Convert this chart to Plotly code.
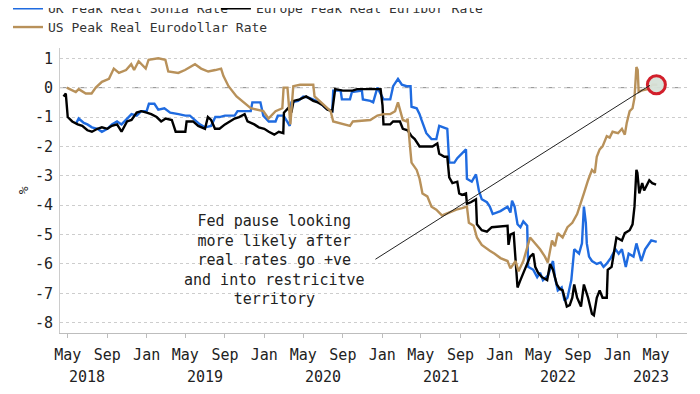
import plotly.graph_objects as go

# ---------------- data ----------------
uk_dates = ["2018-05-28","2018-06-04","2018-06-20","2018-07-01","2018-07-15","2018-08-01","2018-08-15","2018-09-01","2018-09-15","2018-10-01",
            "2018-10-15","2018-11-01","2018-11-15","2018-12-01","2018-12-15","2019-01-01","2019-01-08","2019-01-25","2019-02-06","2019-02-25",
            "2019-03-15","2019-04-10","2019-05-01","2019-05-15","2019-06-01","2019-06-15","2019-07-01","2019-07-20","2019-08-02","2019-08-15",
            "2019-09-01","2019-10-01","2019-10-10","2019-10-25","2019-11-20","2019-11-25","2019-12-20","2019-12-29","2020-01-15","2020-02-05",
            "2020-02-12","2020-03-01","2020-03-13","2020-03-20","2020-03-25","2020-04-15","2020-05-01","2020-05-20","2020-06-10","2020-06-25",
            "2020-07-10","2020-07-30","2020-08-02","2020-08-25","2020-08-29","2020-09-23","2020-09-29","2020-10-30","2020-11-02","2020-11-25",
            "2020-12-04","2020-12-17","2021-01-05","2021-01-26","2021-02-04","2021-02-19","2021-03-03","2021-03-18","2021-03-30","2021-04-02",
            "2021-04-18","2021-04-27","2021-05-03","2021-05-18","2021-06-03","2021-06-18","2021-06-27","2021-07-13","2021-07-22","2021-07-28",
            "2021-08-13","2021-08-22","2021-09-03","2021-09-18","2021-09-21","2021-10-06","2021-10-19","2021-10-28","2021-11-06","2021-11-22",
            "2021-12-01","2021-12-10","2022-01-03","2022-01-25","2022-02-03","2022-02-08","2022-02-16","2022-02-25","2022-03-06","2022-03-15",
            "2022-03-27","2022-03-30","2022-04-15","2022-04-27","2022-05-06","2022-05-15","2022-05-30","2022-06-12","2022-06-15","2022-06-21",
            "2022-06-30","2022-07-12","2022-07-21","2022-07-30","2022-08-11","2022-08-20","2022-09-04","2022-09-13","2022-09-19","2022-09-25",
            "2022-09-28","2022-10-05","2022-10-14","2022-10-29","2022-11-10","2022-11-19","2022-11-28","2022-12-11","2022-12-26","2023-01-05",
            "2023-01-15","2023-01-27","2023-02-05","2023-02-20","2023-03-01","2023-03-16","2023-03-28","2023-04-16","2023-05-03"]
uk_vals = [-1.2,-1.05,-1.2,-1.25,-1.35,-1.4,-1.5,-1.4,-1.25,-1.15,
           -1.25,-1.05,-0.9,-0.95,-0.8,-0.8,-0.55,-0.55,-0.75,-0.7,
           -0.85,-0.9,-0.95,-0.95,-1.1,-1.25,-1.35,-1.3,-1.0,-1.0,
           -0.95,-0.95,-0.8,-0.8,-0.8,-0.5,-0.5,-0.95,-1.15,-1.15,
           -0.95,-0.95,-1.15,-1.3,-0.5,-0.45,-0.3,-0.35,-0.45,-0.55,
           -0.7,-0.8,-0.1,-0.1,-0.4,-0.4,-0.15,-0.1,-0.4,-0.45,
           -0.5,0.0,-0.4,-0.4,0.05,0.3,0.1,0.05,0.05,-0.65,
           -0.7,-0.9,-1.1,-1.55,-1.75,-1.75,-1.3,-1.35,-1.4,-2.55,
           -2.55,-2.4,-2.25,-2.1,-3.1,-3.2,-2.95,-3.5,-3.8,-3.9,
           -4.05,-4.3,-4.2,-4.05,-4.25,-3.85,-4.05,-4.65,-4.75,-4.55,
           -4.7,-6.1,-6.2,-6.45,-6.3,-6.55,-6.4,-6.0,-5.9,-6.45,
           -6.9,-6.8,-7.25,-7.15,-6.55,-5.5,-5.65,-5.3,-4.05,-4.6,
           -5.3,-5.75,-5.9,-6.0,-5.95,-6.1,-6.0,-5.8,-5.5,-5.65,
           -5.5,-6.1,-5.65,-5.75,-5.3,-5.9,-5.5,-5.2,-5.25]

eu_dates = ["2018-04-18","2018-04-25","2018-05-01","2018-05-15","2018-06-01","2018-06-15","2018-07-01","2018-07-15","2018-08-01","2018-08-15",
            "2018-09-01","2018-09-15","2018-10-01","2018-10-15","2018-11-01","2018-11-15","2018-12-01","2018-12-15","2019-01-01","2019-01-15",
            "2019-02-01","2019-02-15","2019-03-01","2019-03-20","2019-04-01","2019-04-15","2019-05-01","2019-05-05","2019-05-25","2019-06-10",
            "2019-07-01","2019-07-10","2019-07-20","2019-08-01","2019-08-15","2019-09-01","2019-09-15","2019-10-01","2019-10-15","2019-11-01",
            "2019-11-10","2019-12-01","2019-12-15","2020-01-01","2020-01-15","2020-02-01","2020-02-15","2020-02-29","2020-03-02","2020-03-15",
            "2020-03-25","2020-04-01","2020-04-20","2020-05-10","2020-06-01","2020-06-15","2020-07-01","2020-07-15","2020-07-30","2020-08-08",
            "2020-09-01","2020-10-01","2020-10-15","2020-12-27","2021-01-02","2021-01-05","2021-01-26","2021-02-04","2021-02-25","2021-03-06",
            "2021-03-21","2021-04-02","2021-04-12","2021-04-27","2021-05-21","2021-06-06","2021-06-21","2021-06-27","2021-07-13","2021-07-22",
            "2021-07-28","2021-08-07","2021-08-22","2021-08-28","2021-09-06","2021-09-18","2021-09-21","2021-10-03","2021-10-19","2021-10-22",
            "2021-11-06","2021-11-22","2021-12-07","2022-01-09","2022-01-25","2022-01-28","2022-02-03","2022-02-13","2022-02-25","2022-03-06",
            "2022-03-27","2022-04-05","2022-04-15","2022-04-21","2022-04-30","2022-05-12","2022-05-28","2022-06-06","2022-06-15","2022-06-27",
            "2022-07-06","2022-07-15","2022-07-28","2022-08-06","2022-08-14","2022-08-20","2022-08-29","2022-09-10","2022-09-19","2022-10-02",
            "2022-10-14","2022-10-20","2022-10-29","2022-11-07","2022-11-16","2022-11-29","2022-12-02","2022-12-14","2022-12-23","2022-12-29",
            "2023-01-15","2023-01-24","2023-02-08","2023-02-17","2023-02-23","2023-03-01","2023-03-04","2023-03-10","2023-03-19","2023-03-25",
            "2023-04-10","2023-04-19","2023-05-01"]
eu_vals = [-0.3,-0.2,-1.0,-1.15,-1.25,-1.3,-1.45,-1.5,-1.4,-1.35,
           -1.4,-1.3,-1.25,-1.5,-1.15,-1.1,-0.85,-0.8,-0.85,-0.9,
           -1.0,-1.15,-1.05,-1.1,-1.5,-1.5,-1.5,-1.15,-1.15,-1.3,
           -1.4,-1.0,-1.1,-1.4,-1.4,-1.25,-1.15,-1.05,-1.0,-0.9,
           -1.15,-1.25,-1.35,-1.4,-1.5,-1.6,-1.5,-1.55,-0.85,-0.7,
           -0.85,-0.45,-0.4,-0.3,-0.45,-0.5,-0.6,-0.75,-0.8,-0.05,
           -0.1,-0.1,-0.05,-0.05,-0.6,-1.25,-1.25,-1.15,-1.15,-1.4,
           -1.45,-1.65,-1.75,-2.0,-2.0,-2.0,-1.9,-2.25,-2.35,-2.35,
           -3.05,-3.25,-3.2,-3.6,-3.65,-3.6,-3.95,-3.9,-3.8,-4.65,
           -4.85,-4.9,-4.75,-4.7,-4.7,-5.35,-5.0,-4.95,-6.8,-6.55,
           -6.0,-5.75,-5.65,-6.1,-6.3,-6.45,-6.55,-6.0,-6.2,-6.7,
           -6.85,-6.9,-7.45,-7.4,-7.15,-6.7,-7.15,-7.45,-6.7,-7.15,
           -7.7,-7.75,-7.15,-6.9,-7.15,-7.15,-6.2,-6.1,-5.5,-5.1,
           -5.2,-4.95,-4.85,-4.65,-4.05,-2.8,-2.9,-3.6,-3.25,-3.5,
           -3.15,-3.25,-3.3]

us_dates = ["2018-04-28","2018-05-26","2018-06-04","2018-06-26","2018-07-14","2018-07-27","2018-08-15","2018-09-06","2018-09-21","2018-10-07",
            "2018-10-29","2018-11-14","2018-11-23","2018-12-07","2018-12-29","2019-01-07","2019-02-06","2019-02-28","2019-03-09","2019-04-09",
            "2019-04-30","2019-05-31","2019-06-19","2019-07-11","2019-08-02","2019-08-20","2019-08-27","2019-09-12","2019-10-07","2019-10-29",
            "2019-11-20","2019-12-29","2020-01-14","2020-02-05","2020-02-26","2020-03-01","2020-03-13","2020-03-22","2020-03-31","2020-04-21",
            "2020-06-01","2020-06-05","2020-07-03","2020-07-25","2020-08-02","2020-09-01","2020-09-23","2020-10-02","2020-11-25","2020-12-17",
            "2021-01-05","2021-01-26","2021-02-10","2021-02-19","2021-03-06","2021-03-18","2021-03-21","2021-03-27","2021-04-02","2021-04-18",
            "2021-04-27","2021-05-06","2021-05-21","2021-06-03","2021-06-18","2021-07-06","2021-07-28","2021-08-19","2021-09-06","2021-09-21",
            "2021-09-27","2021-10-12","2021-10-22","2021-11-06","2021-12-01","2021-12-16","2022-01-03","2022-01-25","2022-02-03","2022-02-19",
            "2022-02-28","2022-03-15","2022-04-05","2022-04-21","2022-05-06","2022-05-21","2022-05-30","2022-06-12","2022-06-21","2022-06-30",
            "2022-07-15","2022-07-30","2022-08-14","2022-08-29","2022-09-10","2022-09-19","2022-10-02","2022-10-14","2022-10-23","2022-10-29",
            "2022-11-07","2022-11-16","2022-11-29","2022-12-08","2022-12-17","2023-01-03","2023-01-15","2023-01-24","2023-01-30","2023-02-08",
            "2023-02-17","2023-02-23","2023-03-01","2023-03-05","2023-03-08","2023-03-16","2023-04-05","2023-04-20","2023-05-05"]
us_vals = [0.0,-0.15,-0.05,-0.2,-0.2,0.0,0.2,0.3,0.65,0.5,
           0.6,0.8,0.6,0.9,0.65,0.95,1.0,0.95,0.55,0.5,
           0.6,0.8,0.65,0.55,0.6,0.65,0.4,0.05,-0.3,-0.5,
           -0.7,-0.8,-1.05,-0.8,-0.7,0.0,0.0,-1.25,0.05,0.1,
           0.1,-0.3,-0.6,-0.8,-1.15,-1.25,-1.3,-1.15,-1.1,-0.95,
           -0.9,-0.9,-0.8,-0.5,-1.1,-1.15,-1.05,-1.85,-2.55,-2.8,
           -3.1,-3.6,-3.7,-4.05,-4.15,-4.35,-4.25,-4.15,-4.1,-4.05,
           -4.6,-4.7,-5.1,-5.35,-5.55,-5.65,-5.8,-5.9,-6.15,-5.9,
           -6.25,-5.9,-5.1,-5.3,-5.5,-5.75,-5.95,-5.2,-5.4,-4.95,
           -5.1,-4.75,-4.6,-4.3,-3.85,-3.6,-3.15,-2.8,-2.9,-2.35,
           -2.1,-2.0,-1.65,-1.7,-1.5,-1.55,-1.4,-1.6,-1.2,-0.8,
           -0.7,-0.35,0.7,0.6,-0.15,-0.1,-0.05,0.1,0.1]

tick_dates = ["2018-05-01","2018-09-01","2019-01-01","2019-05-01","2019-09-01","2020-01-01","2020-05-01","2020-09-01",
              "2021-01-01","2021-05-01","2021-09-01","2022-01-01","2022-05-01","2022-09-01","2023-01-01","2023-05-01"]
tick_text = ["May","Sep","Jan","May","Sep","Jan","May","Sep","Jan","May","Sep","Jan","May","Sep","Jan","May"]
year_labels = ["2018","2019","2020","2021","2022","2023"]
year_pos = ["2018-07-01","2019-07-01","2020-07-01","2021-07-01","2022-07-01","2023-04-15"]
y_ticks = [1,0,-1,-2,-3,-4,-5,-6,-7,-8]

note_text = "Fed pause looking<br>more likely after<br>real rates go +ve<br>and into restricitve<br>territory"
note_pos = ("2020-02-03", -5.87)
pointer_from = ("2020-12-11", -5.84)
pointer_to = ("2023-04-12", 0.08)
circle_at = ("2023-05-02", 0.1)

FONT = "DejaVu Sans Mono"
BLUE = "#1f6be0"
TAN = "#b8915a"

fig = go.Figure()
fig.add_trace(go.Scatter(x=uk_dates, y=uk_vals, mode="lines", name="UK Peak Real Sonia Rate",
                         line=dict(color=BLUE, width=2.4), legend="legend"))
fig.add_trace(go.Scatter(x=eu_dates, y=eu_vals, mode="lines", name="Europe Peak Real Euribor Rate",
                         line=dict(color="#000000", width=2.4), legend="legend3"))
fig.add_trace(go.Scatter(x=us_dates, y=us_vals, mode="lines", name="US Peak Real Eurodollar Rate",
                         line=dict(color=TAN, width=2.4), legend="legend2"))
fig.add_trace(go.Scatter(x=[circle_at[0]], y=[circle_at[1]], mode="markers", showlegend=False,
                         marker=dict(size=18, color="rgba(214,226,216,0.95)",
                                     line=dict(color="#d21f2b", width=3))))

fig.add_shape(type="line", xref="paper", yref="y", x0=0, x1=1, y0=0, y1=0,
              line=dict(color="#8a8a8a", width=1, dash="dash"), layer="below")
fig.add_shape(type="line", xref="x", yref="y", x0=pointer_from[0], y0=pointer_from[1],
              x1=pointer_to[0], y1=pointer_to[1], line=dict(color="#222222", width=1))

fig.add_annotation(x=note_pos[0], y=note_pos[1], xref="x", yref="y", text=note_text, showarrow=False,
                   font=dict(family=FONT, size=15, color="#222222"), align="center",
                   bgcolor="rgba(255,255,255,0)")
for yr, pos in zip(year_labels, year_pos):
    fig.add_annotation(x=pos, y=-0.154, xref="x", yref="paper", text=yr, showarrow=False,
                       yanchor="middle", font=dict(family=FONT, size=15, color="#222222"))
fig.add_annotation(x=-0.072, y=0.502, xref="paper", yref="paper", text="%", showarrow=False,
                   textangle=-90, font=dict(family=FONT, size=13, color="#222222"))

legend_common = dict(orientation="h", xref="container", yref="paper",
                     xanchor="left", yanchor="top", itemwidth=30,
                     font=dict(family=FONT, size=13, color="#333333"),
                     bgcolor="rgba(0,0,0,0)", tracegroupgap=0)

# the page body adds an 8px offset; margins compensate so the plot area sits where the reference has it
fig.update_layout(
    width=700, height=394,
    margin=dict(l=52, r=21, t=40, b=69, autoexpand=False),
    paper_bgcolor="white", plot_bgcolor="white",
    font=dict(family=FONT, color="#222222"),
    showlegend=True,
    legend=dict(legend_common, x=-0.007, y=1.192),
    legend3=dict(legend_common, x=0.297, y=1.192),
    legend2=dict(legend_common, x=-0.007, y=1.126),
    xaxis=dict(type="date", range=["2018-04-07", "2023-08-05"], tickvals=tick_dates, ticktext=tick_text,
               automargin=False,
               showgrid=False, zeroline=False, showline=True, linecolor="#bdbdbd", linewidth=1,
               ticks="outside", ticklen=4, tickcolor="#bdbdbd", ticklabelstandoff=4,
               tickfont=dict(family=FONT, size=15, color="#222222")),
    yaxis=dict(range=[-8.35, 1.35], tickvals=y_ticks, ticktext=[str(v) for v in y_ticks],
               automargin=False,
               showgrid=True, gridcolor="#cdcdcd", griddash="dot", gridwidth=1,
               zeroline=False, showline=True, linecolor="#cccccc", linewidth=1,
               ticks="outside", ticklen=3, tickcolor="rgba(0,0,0,0)",
               tickfont=dict(family=FONT, size=15, color="#222222")),
)

fig.write_html("out.html")
